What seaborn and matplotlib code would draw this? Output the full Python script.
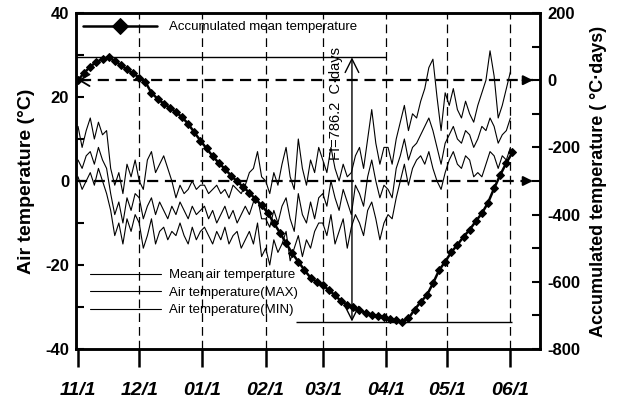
import pandas as pd
import matplotlib
matplotlib.use("Agg")
import matplotlib.pyplot as plt
import seaborn as sns

# days counted from 11/1
temp_days = list(range(0, 213, 2))
acc_days = list(range(0, 214, 3))
month_days = [0, 30, 61, 92, 120, 151, 181, 212]
month_labels = ["11/1", "12/1", "01/1", "02/1", "03/1", "04/1", "05/1", "06/1"]

# daily air temperatures (every 2nd day), Nov .. May
t_max = [13, 8, 12, 15, 10, 14, 11, 12, 3, -1, 2, -3, 4, 1, 5,
         0, -2, 5, 7, 2, 4, 6, 3, 0, -4, -1, -3, -2, 0, -2, -1,
         -1, -3, -2, -1, -3, -2, -4, -1, -2, -3, -1, 2, 3, 7, 1,
         0, -3, 2, -1, 4, 8, 1, -2, 10, 3, -1, 5, 2, 8,
         5, 2, 8, 3, 0, 4, 1, 2, 6, 8, 3, 10, 17, 9, 4, 8,
         8, 4, 10, 14, 18, 12, 16, 15, 19, 22, 27, 29, 20, 12, 21,
         18, 22, 17, 15, 19, 16, 14, 18, 21, 24, 31, 25, 15, 18, 22, 26]
t_mean = [5, 3, 6, 7, 4, 8, 5, 3, -3, -8, -5, -10, -4, -7, -3,
          -4, -9, -6, -4, -8, -5, -7, -9, -6, -8, -5, -7, -9, -6, -8, -7,
          -6, -9, -7, -10, -8, -6, -9, -7, -10, -8, -6, -8, -5, -4, -9,
          -9, -11, -7, -10, -6, -4, -9, -12, -3, -8, -10, -5, -9, -4,
          -3, -6, 0, -4, -7, -2, -5, -8, -1, -3, -6, 1, 5, 0, -4, -1,
          -2, -4, 3, 6, 10, 5, 8, 9, 11, 13, 15, 12, 8, 4, 9,
          11, 13, 10, 9, 12, 11, 8, 10, 13, 12, 15, 13, 9, 11, 12, 15]
t_min = [1, -2, 0, 2, -1, 3, 0, -3, -7, -13, -10, -15, -9, -12, -8,
         -10, -16, -13, -9, -15, -12, -11, -14, -12, -13, -10, -13, -15, -11, -14, -12,
         -11, -13, -15, -12, -14, -11, -15, -13, -12, -16, -14, -12, -15, -10, -18,
         -16, -20, -14, -17, -15, -12, -19, -16, -13, -18, -14, -16, -12, -10,
         -10, -13, -8, -15, -12, -9, -16, -11, -8, -10, -13, -7, -5, -9, -14, -10,
         -8, -9, -4, 0, 4, -1, 3, 5, 6, 4, 7, 3, 0, -2, 2,
         5, 7, 4, 3, 6, 5, 1, 2, 1, 4, 7, 6, 3, 6, 5, 8]

# accumulated mean temperature (C-days), every 3rd day
acc_mean = [0, 22, 40, 55, 62, 68, 57, 45, 32, 20,
            8, -5, -38, -55, -70, -82, -95, -110, -130, -155,
            -180, -203, -226, -246, -264, -284, -301, -318, -335, -354,
            -372, -395, -425, -454, -485, -515, -540, -565, -588, -600,
            -610, -625, -640, -658, -668, -676, -685, -692, -698, -702,
            -705, -712, -715, -718.2, -709, -683, -660, -640, -605, -566,
            -540, -512, -490, -466, -445, -420, -396, -365, -322, -282,
            -246, -215]

sns.set_style("ticks", {"axes.edgecolor": "black", "text.color": "black",
                        "xtick.color": "black", "ytick.color": "black",
                        "axes.labelcolor": "black"})
plt.rcParams["font.family"] = ["Liberation Sans", "DejaVu Sans"]
plt.rcParams["axes.unicode_minus"] = False

fig = plt.figure(figsize=(6.21, 4.01), dpi=100)
ax = fig.add_axes([76 / 621, 1 - 349 / 401, 464 / 621, 336 / 401])
ax2 = ax.twinx()

temps = pd.DataFrame({"day": temp_days, "mean": t_mean, "max": t_max, "min": t_min})
for col, lab in [("mean", "Mean air temperature"),
                 ("max", "Air temperature(MAX)"),
                 ("min", "Air temperature(MIN)")]:
    sns.lineplot(data=temps, x="day", y=col, ax=ax, color="black", lw=0.8, label=lab)

acc = pd.DataFrame({"day": acc_days, "acc": acc_mean})
sns.lineplot(data=acc, x="day", y="acc", ax=ax2, color="black", lw=1.8,
             marker="D", markersize=4, markeredgecolor="black",
             label="Accumulated mean temperature")

# month grid lines
for d in month_days[1:]:
    ax.axvline(d, color="black", lw=0.9, ls=(0, (7, 4)), zorder=1)

# zero lines with arrows
ax.hlines(0, -1, 223, color="black", lw=1.6, ls=(0, (5, 3)))
ax2.hlines(0, 1, 223, color="black", lw=1.6, ls=(0, (5, 3)))
arrow_kw = dict(arrowstyle="-|>", color="black", lw=1.5, mutation_scale=14, shrinkA=0, shrinkB=0)
ax.annotate("", xy=(223, 0), xytext=(218, 0), arrowprops=arrow_kw)
ax2.annotate("", xy=(223, 0), xytext=(218, 0), arrowprops=arrow_kw)
ax2.annotate("", xy=(0, 0), xytext=(5, 0),
             arrowprops=dict(arrowstyle="->,head_length=0.5,head_width=0.3", color="black",
                             lw=1.3, mutation_scale=14, shrinkA=0, shrinkB=0))

# freezing index
peak = max(acc_mean)
low = min(acc_mean)
ax2.hlines(peak, -1, 151, color="black", lw=1)
ax2.hlines(low, 107, 213, color="black", lw=1)
ax2.annotate("", xy=(134.3, peak), xytext=(134.3, low),
             arrowprops=dict(arrowstyle="<->,head_length=0.7,head_width=0.35", color="black",
                             lw=1, mutation_scale=14, shrinkA=0, shrinkB=0))
ax.text(126.5, 18.5, f"FI={peak - low:.1f}  C·days", rotation=90, ha="center", va="center",
        fontsize=10.5)

# axes
ax.set_xlim(-1, 226.5)
ax.set_xticks(month_days)
ax.set_xticklabels(month_labels, fontsize=14, fontweight="bold", style="italic")
ax.tick_params(axis="x", direction="out", length=13, width=1.8, pad=11)
ax.set_xlabel("")

ax.set_ylim(-40, 40)
ax.set_yticks([-40, -20, 0, 20, 40])
ax.set_yticks([-30, -10, 10, 30], minor=True)
ax.tick_params(axis="y", which="both", direction="in", length=6, width=1.5, pad=5, labelsize=12)
for lbl in ax.get_yticklabels():
    lbl.set_fontweight("bold")
ax.set_ylabel("Air temperature (°C)", fontsize=14, fontweight="bold")
ax.yaxis.set_label_coords(-0.088, 0.5)

ax2.set_ylim(-800, 200)
ax2.set_yticks([-800, -600, -400, -200, 0, 200])
ax2.set_yticks([-700, -500, -300, -100, 100], minor=True)
ax2.tick_params(axis="y", which="both", direction="in", length=6, width=1.5, pad=5, labelsize=12)
for lbl in ax2.get_yticklabels():
    lbl.set_fontweight("bold")
ax2.set_ylabel("Accumulated temperature ( °C·days)", fontsize=13, fontweight="bold")
ax2.yaxis.set_label_coords(1.108, 0.5)

for a in (ax, ax2):
    for s in a.spines.values():
        s.set_linewidth(1.8)
        s.set_color("black")

# legends
ax.legend(loc="upper left", bbox_to_anchor=(90 / 621, 1 - 269 / 401), bbox_transform=fig.transFigure,
          frameon=False, fontsize=9.5, handlelength=5.4, handletextpad=0.6, labelspacing=0.4,
          borderpad=0, borderaxespad=0)
ax2.legend(loc="upper left", bbox_to_anchor=(83 / 621, 1 - 21 / 401), bbox_transform=fig.transFigure,
           frameon=False, fontsize=9.5, handlelength=5.6, handletextpad=0.9, markerscale=2,
           borderpad=0, borderaxespad=0)

fig.savefig("out.png", dpi=100)
